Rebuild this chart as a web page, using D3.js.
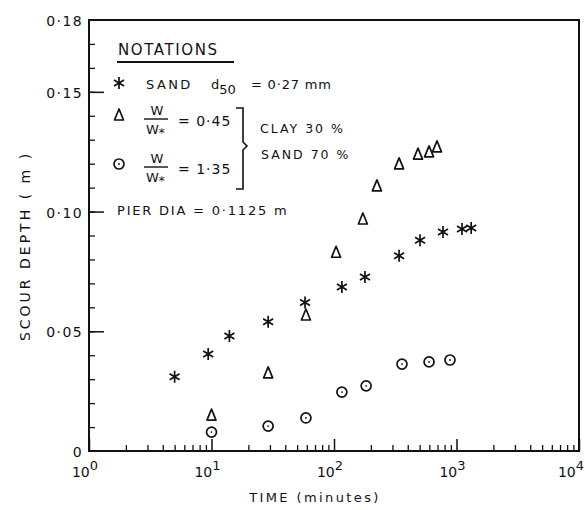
<!DOCTYPE html>
<html><head><meta charset="utf-8">
<script src="https://cdn.jsdelivr.net/npm/d3@7"></script>
<style>body{margin:0;background:#fff}svg{display:block}text{font-family:"DejaVu Sans",sans-serif;fill:#111}</style>
</head><body><svg id="c" width="585" height="510"></svg>
<script>
const sandTime = [5, 9.4, 14, 29, 58, 116, 179, 340, 504, 776, 1109, 1318];
const sandDepth = [0.031, 0.0405, 0.048, 0.054, 0.062, 0.0685, 0.0727, 0.0815, 0.088, 0.0915, 0.0927, 0.0931];
const tri045Time = [10, 29, 59, 104, 172, 224, 340, 485, 597, 693];
const tri045Depth = [0.015, 0.0326, 0.0568, 0.083, 0.0969, 0.1107, 0.1199, 0.124, 0.1249, 0.127];
const circ135Time = [10, 29, 59, 116, 183, 359, 597, 885];
const circ135Depth = [0.0079, 0.0104, 0.0138, 0.0246, 0.0272, 0.0363, 0.0372, 0.038];
const yTickLabels = ["0", "0·05", "0·10", "0·15", "0·18"];
const yTickValues = [0, 0.05, 0.10, 0.15, 0.18];
const xDecades = [0, 1, 2, 3, 4];

const svg = d3.select("#c");
const x = d3.scaleLog().domain([1, 1e4]).range([89, 579]);
const y = d3.scaleLinear().domain([0, 0.18]).range([451, 20]);
const col = "#111";

// minor/major ticks (inward)
const xMinor = [];
for (let d = 0; d < 4; d++) for (let m = 2; m <= 9; m++) xMinor.push(m * Math.pow(10, d));
const xMajor = xDecades.map(d => Math.pow(10, d));
svg.append("g").attr("transform", "translate(0,451)")
  .call(d3.axisBottom(x).tickValues(xMinor).tickSize(-6).tickFormat(""))
  .call(g => { g.select(".domain").remove(); g.selectAll("line").attr("stroke", col).attr("stroke-width", 1.3); });
svg.append("g").attr("transform", "translate(0,451)")
  .call(d3.axisBottom(x).tickValues(xMajor).tickSize(-12).tickFormat(""))
  .call(g => { g.select(".domain").remove(); g.selectAll("line").attr("stroke", col).attr("stroke-width", 1.5); });

const yMinor = d3.range(1, 18).map(v => v / 100);
svg.append("g").attr("transform", "translate(89,0)")
  .call(d3.axisLeft(y).tickValues(yMinor).tickSize(-6).tickFormat(""))
  .call(g => { g.select(".domain").remove(); g.selectAll("line").attr("stroke", col).attr("stroke-width", 1.3); });
svg.append("g").attr("transform", "translate(89,0)")
  .call(d3.axisLeft(y).tickValues([0.05, 0.10, 0.15]).tickSize(-15).tickFormat(""))
  .call(g => { g.select(".domain").remove(); g.selectAll("line").attr("stroke", col).attr("stroke-width", 1.5); });

// frame
svg.append("rect").attr("x", x(1)).attr("y", y(0.18)).attr("width", x(1e4) - x(1)).attr("height", y(0) - y(0.18))
  .attr("fill", "none").attr("stroke", col).attr("stroke-width", 2);

// y labels
svg.append("g").selectAll("text").data(yTickValues).join("text")
  .attr("x", 83).attr("y", d => y(d) + 6).attr("text-anchor", "end")
  .attr("font-size", 14).attr("letter-spacing", 1.4).text((d, i) => yTickLabels[i]);

// x labels
const xl = svg.append("g").selectAll("text").data(xDecades).join("text")
  .attr("x", d => d === 4 ? 584 : x(Math.pow(10, d)) - 4).attr("y", 477)
  .attr("text-anchor", d => d === 4 ? "end" : "middle").attr("font-size", 14);
xl.append("tspan").text("10");
xl.append("tspan").attr("dy", -7).attr("font-size", 13).text(d => String(d));

// axis titles
svg.append("text").attr("x", 315).attr("y", 502).attr("text-anchor", "middle")
  .attr("font-size", 13).attr("letter-spacing", 2.4).text("TIME (minutes)");
svg.append("text").attr("transform", "translate(30,246) rotate(-90)").attr("text-anchor", "middle")
  .attr("font-size", 14).attr("letter-spacing", 3).text("SCOUR DEPTH ( m )");

// marker drawing
function star(g, cx, cy) {
  const r = 5;
  g.append("path").attr("d",
    `M${cx},${cy - r - 1}L${cx},${cy + r + 1}M${cx - r},${cy - r * 0.6}L${cx + r},${cy + r * 0.6}M${cx - r},${cy + r * 0.6}L${cx + r},${cy - r * 0.6}`)
    .attr("stroke", col).attr("stroke-width", 1.7).attr("fill", "none");
}
function tri(g, cx, cy) {
  g.append("path").attr("d", `M${cx},${cy - 6}L${cx + 4.5},${cy + 5}L${cx - 4.5},${cy + 5}Z`)
    .attr("stroke", col).attr("stroke-width", 1.7).attr("fill", "none").attr("stroke-linejoin", "round");
}
function circ(g, cx, cy) {
  g.append("circle").attr("cx", cx).attr("cy", cy).attr("r", 5).attr("fill", "none").attr("stroke", col).attr("stroke-width", 1.7);
  g.append("circle").attr("cx", cx).attr("cy", cy).attr("r", 0.9).attr("fill", col);
}
const pts = svg.append("g");
sandTime.forEach((t, i) => star(pts, x(t), y(sandDepth[i])));
tri045Time.forEach((t, i) => tri(pts, x(t), y(tri045Depth[i])));
circ135Time.forEach((t, i) => circ(pts, x(t), y(circ135Depth[i])));

// legend
const lg = svg.append("g");
lg.append("text").attr("x", 118).attr("y", 55).attr("font-size", 15).attr("letter-spacing", 1.6).text("NOTATIONS");
lg.append("line").attr("x1", 117).attr("x2", 234).attr("y1", 62).attr("y2", 62).attr("stroke", col).attr("stroke-width", 2);
star(lg, 119, 83);
const t1 = lg.append("text").attr("x", 146).attr("y", 89).attr("font-size", 13).attr("letter-spacing", 2.4);
t1.append("tspan").text("SAND");
t1.append("tspan").attr("x", 211).attr("letter-spacing", 0).text("d");
t1.append("tspan").attr("dy", 5).attr("letter-spacing", 0).text("50");
t1.append("tspan").attr("x", 251).attr("dy", -5).attr("letter-spacing", 0.8).text("= 0·27 mm");
tri(lg, 119, 115);
circ(lg, 119, 164);
function frac(cy, val) {
  lg.append("text").attr("x", 157).attr("y", cy - 6).attr("text-anchor", "middle").attr("font-size", 13).text("W");
  lg.append("line").attr("x1", 144).attr("x2", 168).attr("y1", cy - 2).attr("y2", cy - 2).attr("stroke", col).attr("stroke-width", 1.4);
  const w = lg.append("text").attr("x", 146).attr("y", cy + 13).attr("font-size", 13);
  w.append("tspan").text("W");
  w.append("tspan").attr("dy", 3).attr("font-size", 12).text("*");
  lg.append("text").attr("x", 178).attr("y", cy + 5).attr("font-size", 14).attr("letter-spacing", 1).text("= " + val);
}
frac(121, "0·45");
frac(169, "1·35");
lg.append("path").attr("d", "M236,108L243,108L243,142L247,146L243,150L243,189L236,189")
  .attr("fill", "none").attr("stroke", col).attr("stroke-width", 1.6);
lg.append("text").attr("x", 260).attr("y", 133).attr("font-size", 12.5).attr("letter-spacing", 2).text("CLAY 30 %");
lg.append("text").attr("x", 261).attr("y", 159).attr("font-size", 12.5).attr("letter-spacing", 2).text("SAND 70 %");
lg.append("text").attr("x", 117).attr("y", 215).attr("font-size", 13).attr("letter-spacing", 1.8).text("PIER DIA = 0·1125 m");
</script></body></html>
